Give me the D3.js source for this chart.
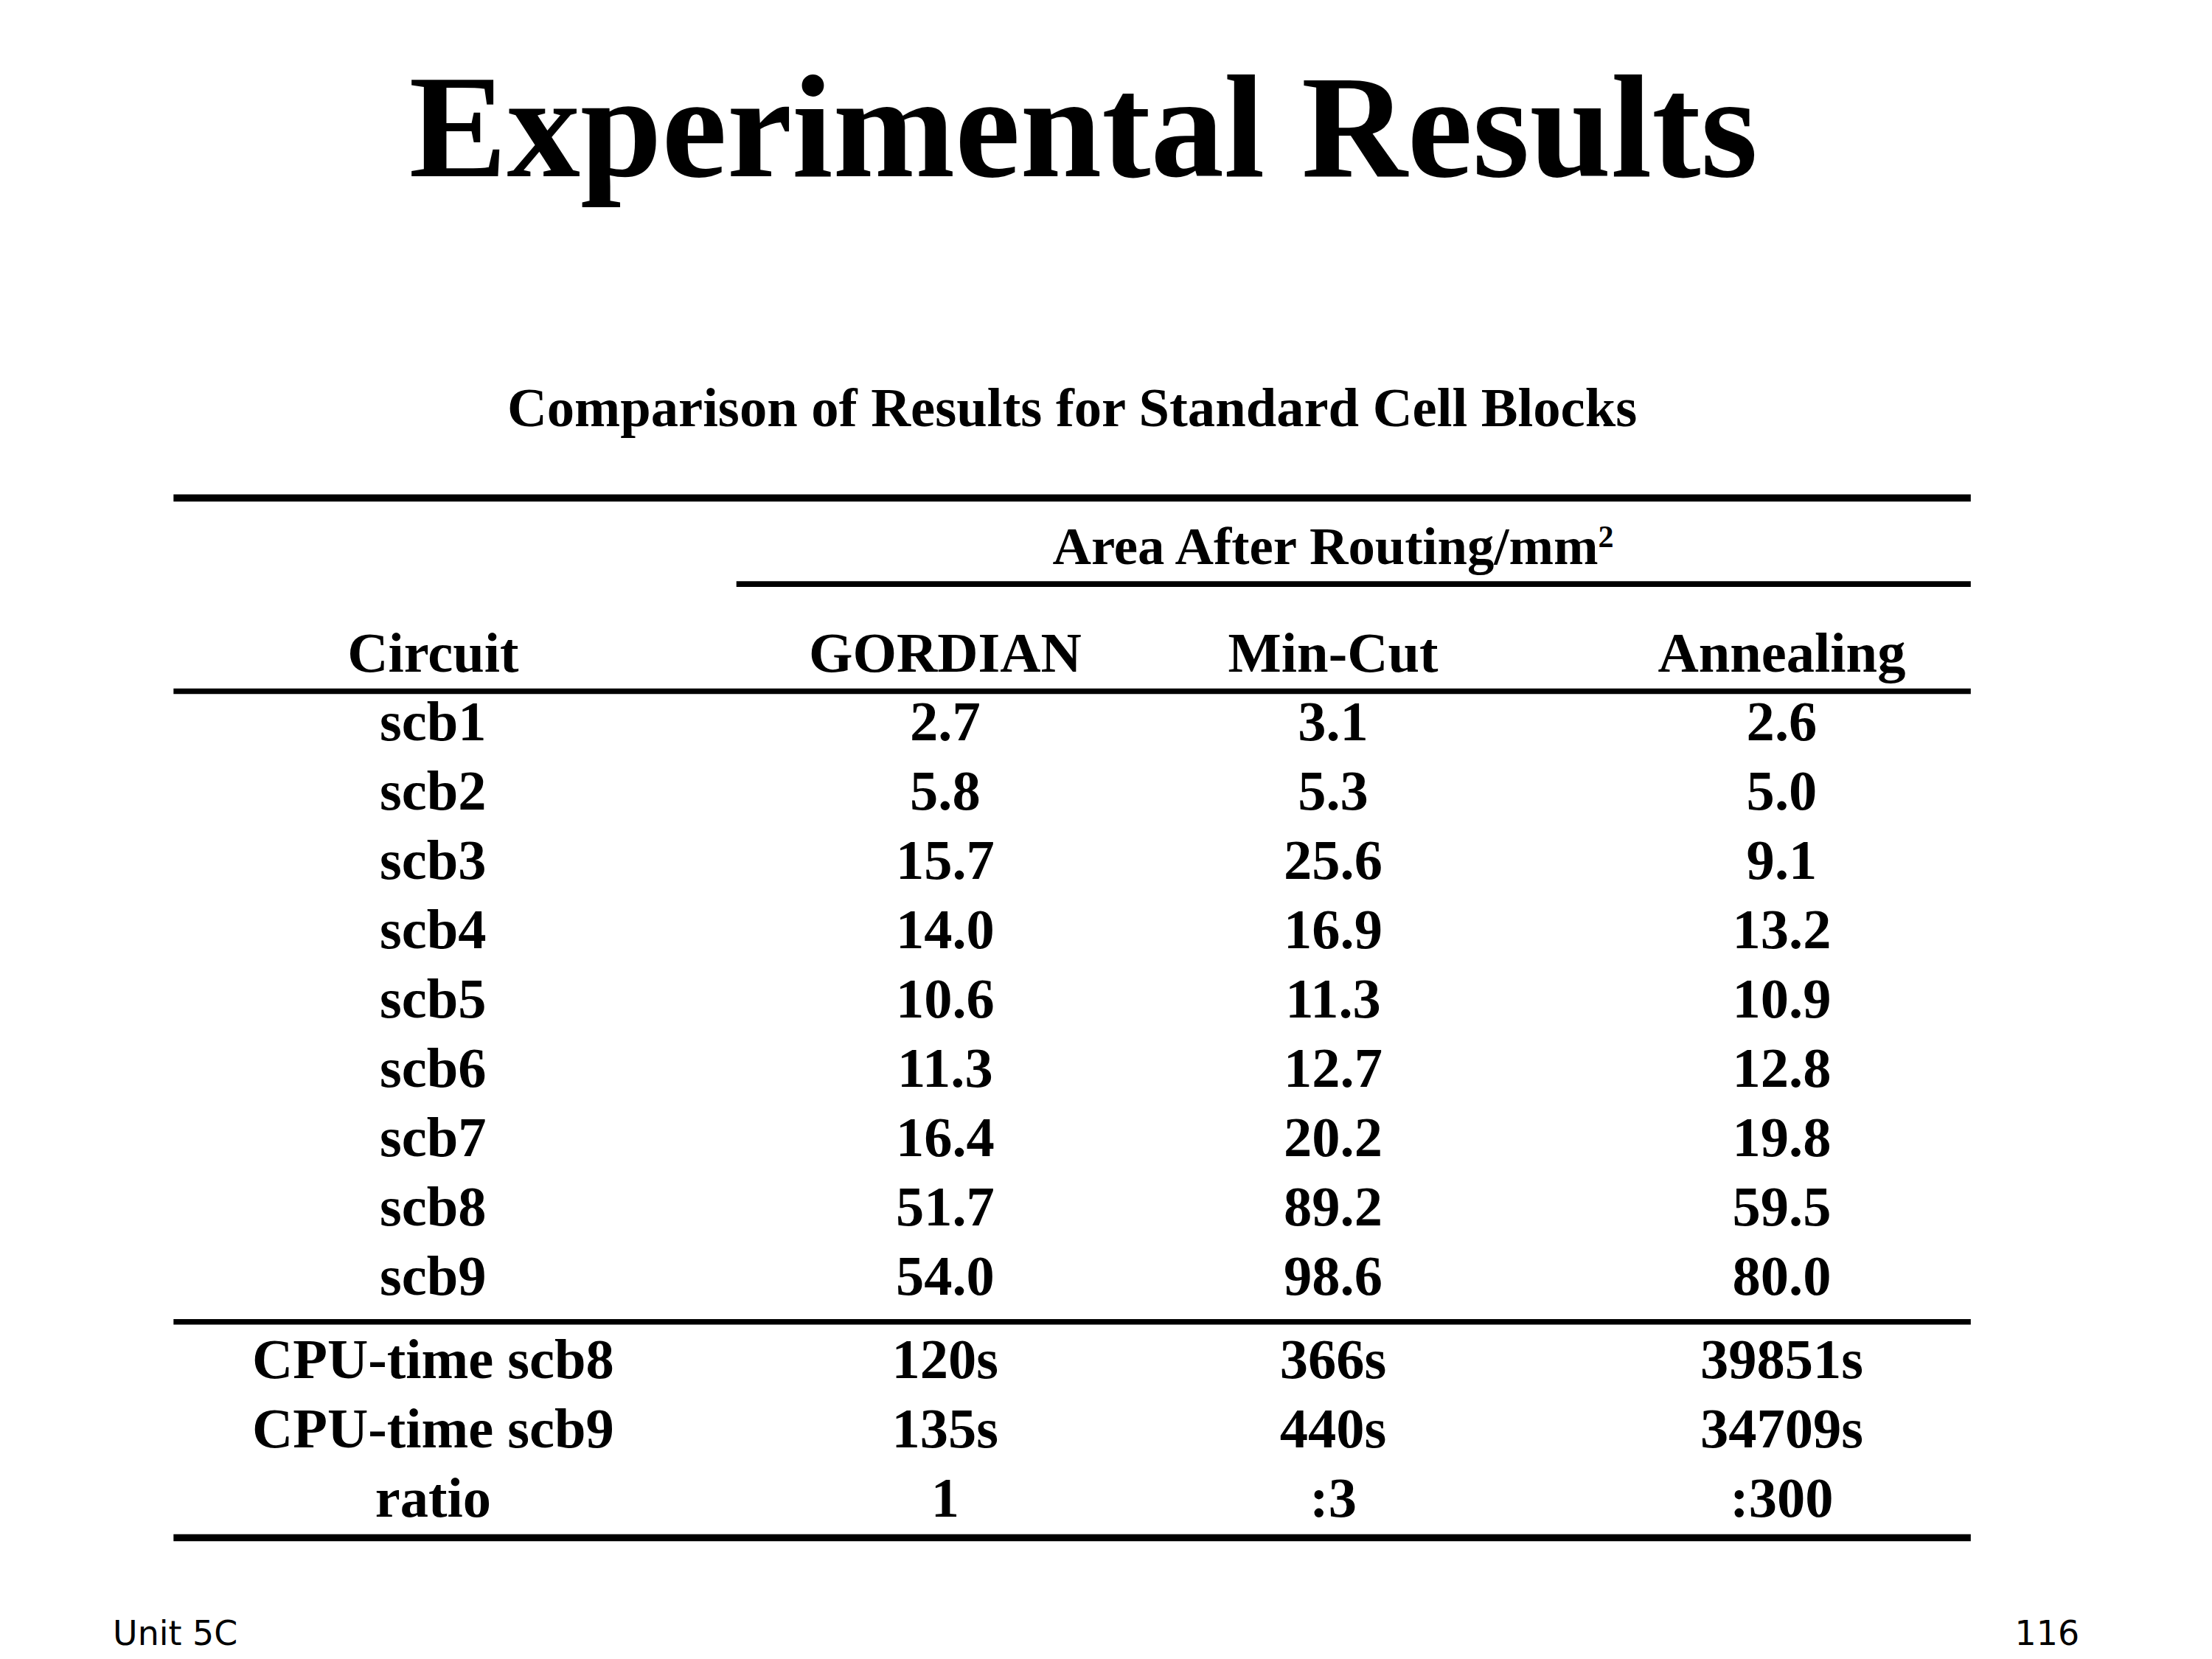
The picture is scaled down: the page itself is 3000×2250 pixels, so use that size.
<!DOCTYPE html>
<html>
<head>
<meta charset="utf-8">
<script src="https://cdn.jsdelivr.net/npm/d3@7"></script>
<style>
  body { margin: 0; background: #fff; }
</style>
</head>
<body>
<svg id="chart"></svg>
<script>
// Table data
const columns = ["Circuit", "GORDIAN", "Min-Cut", "Annealing"];
const circuits = ["scb1", "scb2", "scb3", "scb4", "scb5", "scb6", "scb7", "scb8", "scb9"];
const gordian = ["2.7", "5.8", "15.7", "14.0", "10.6", "11.3", "16.4", "51.7", "54.0"];
const minCut = ["3.1", "5.3", "25.6", "16.9", "11.3", "12.7", "20.2", "89.2", "98.6"];
const annealing = ["2.6", "5.0", "9.1", "13.2", "10.9", "12.8", "19.8", "59.5", "80.0"];
const summaryLabels = ["CPU-time scb8", "CPU-time scb9", "ratio"];
const summaryGordian = ["120s", "135s", "1"];
const summaryMinCut = ["366s", "440s", ":3"];
const summaryAnnealing = ["39851s", "34709s", ":300"];

const W = 1568, H = 1176;
const svg = d3.select("#chart")
  .attr("width", 3000).attr("height", 2250)
  .attr("viewBox", `0 0 ${W} ${H}`);

const serif = "'Liberation Serif', 'Times New Roman', serif";

// column centres
const x = d3.scaleOrdinal().domain(columns).range([307, 670, 945, 1263]);

// row baselines
const rowY = d3.scaleLinear().domain([0, 8]).range([525, 918]);
const sumY = d3.scaleLinear().domain([0, 2]).range([977, 1075]);

svg.append("text").text("Experimental Results")
  .attr("x", 768).attr("y", 125).attr("text-anchor", "middle")
  .style("font-family", serif).style("font-weight", "bold").style("font-size", "104px");

svg.append("text").text("Comparison of Results for Standard Cell Blocks")
  .attr("x", 760).attr("y", 302).attr("text-anchor", "middle")
  .style("font-family", serif).style("font-weight", "bold").style("font-size", "39px");

// rules
const rules = [[123, 1397, 353, 5], [522, 1397, 414, 4], [123, 1397, 490, 4], [123, 1397, 937, 4], [123, 1397, 1090, 5]];
svg.selectAll("line.rule").data(rules).enter().append("line")
  .attr("x1", d => d[0]).attr("x2", d => d[1])
  .attr("y1", d => d[2]).attr("y2", d => d[2])
  .attr("stroke", "#000").attr("stroke-width", d => d[3]);

const area = svg.append("text").attr("x", 945).attr("y", 400).attr("text-anchor", "middle")
  .style("font-family", serif).style("font-weight", "bold").style("font-size", "38px");
area.append("tspan").text("Area After Routing/mm");
area.append("tspan").text("2").attr("dy", -12).style("font-size", "22px");

svg.selectAll("text.head").data(columns).enter().append("text")
  .attr("x", d => x(d)).attr("y", 476).attr("text-anchor", "middle")
  .style("font-family", serif).style("font-weight", "bold").style("font-size", "40px")
  .text(d => d);

function cells(rows, yScale) {
  rows.forEach((col, ci) => {
    svg.append("g").selectAll("text").data(col).enter().append("text")
      .attr("x", x(columns[ci]))
      .attr("y", (d, i) => yScale(i))
      .attr("text-anchor", "middle")
      .style("font-family", serif).style("font-weight", "bold").style("font-size", "40px")
      .text(d => d);
  });
}
cells([circuits, gordian, minCut, annealing], rowY);
cells([summaryLabels, summaryGordian, summaryMinCut, summaryAnnealing], sumY);

const sans = "Verdana, 'DejaVu Sans', sans-serif";
svg.append("text").text("Unit 5C").attr("x", 80).attr("y", 1166)
  .style("font-family", sans).style("font-size", "24px");
svg.append("text").text("116").attr("x", 1474).attr("y", 1166).attr("text-anchor", "end")
  .style("font-family", sans).style("font-size", "24px");
</script>
</body>
</html>
